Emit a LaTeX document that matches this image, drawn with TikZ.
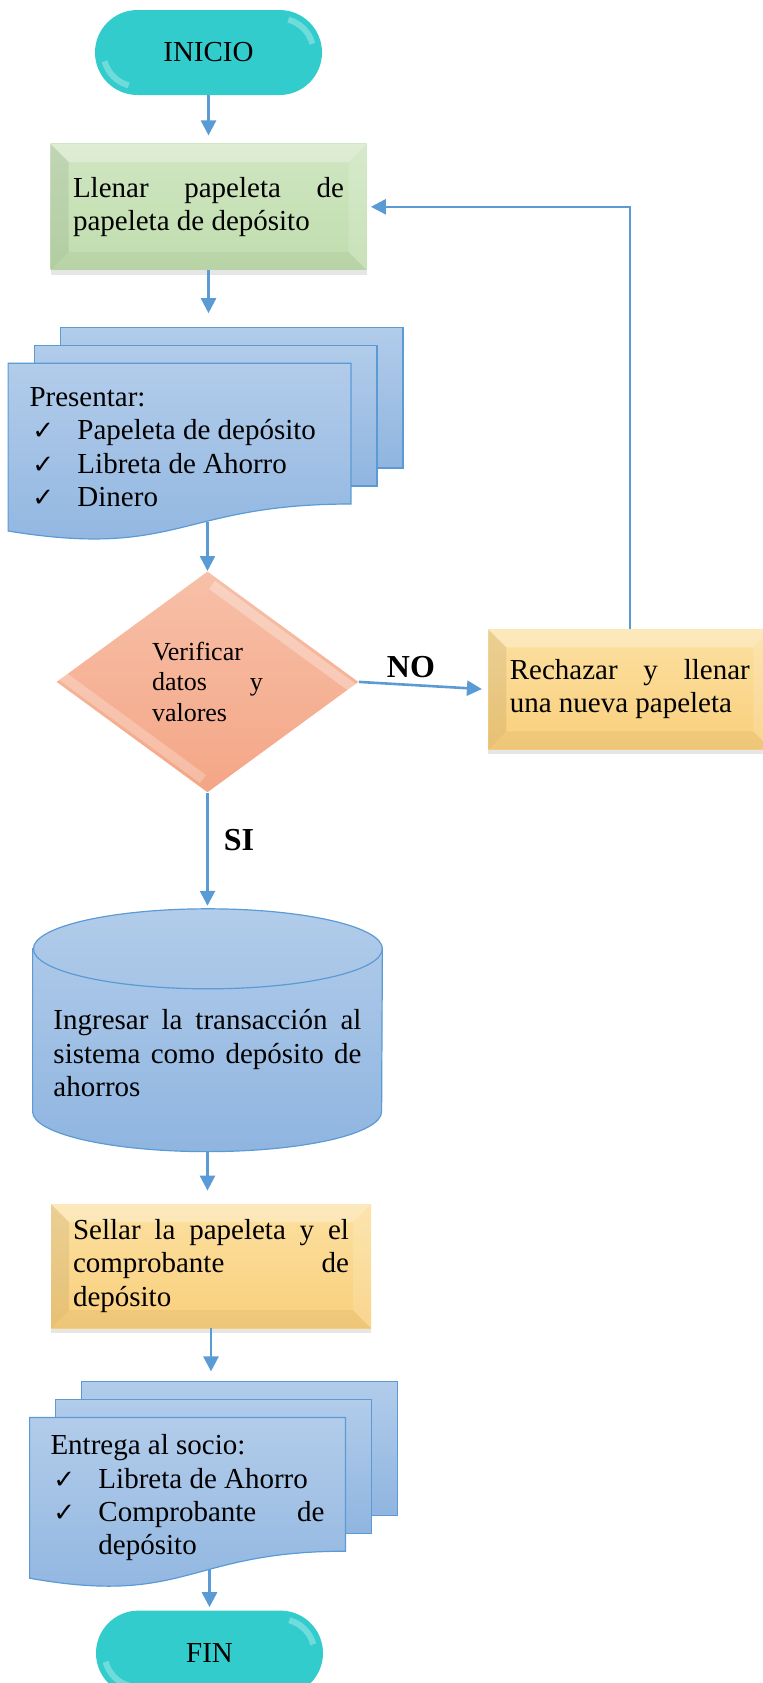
\documentclass[tikz,border=0pt]{standalone}
\usepackage{fontspec}
\setmainfont{Liberation Serif}
\newfontfamily\symfont{DejaVu Sans}
\usepackage{xcolor}
\usetikzlibrary{shapes.geometric, arrows.meta, positioning, calc, shadows, backgrounds}

\hyphenpenalty=10000
\exhyphenpenalty=10000
\tolerance=10000

\definecolor{linkblue}{RGB}{91,155,213}
\definecolor{pillteal}{RGB}{51,204,204}
\definecolor{greentop}{RGB}{208,230,194}
\definecolor{greenbot}{RGB}{192,221,173}
\definecolor{goldtop}{RGB}{252,224,160}
\definecolor{goldbot}{RGB}{249,207,124}
\definecolor{salmontop}{RGB}{247,192,168}
\definecolor{salmonbot}{RGB}{244,166,134}
\definecolor{doctop}{RGB}{178,204,234}
\definecolor{docbot}{RGB}{143,181,224}

\newcommand{\chk}{\hspace*{1.5pt}\makebox[22.5pt][l]{\symfont\fontsize{13pt}{13pt}\selectfont ✓}}

\begin{document}
\begin{tikzpicture}[
    every node/.style={font=\fontsize{14.5pt}{16.6pt}\selectfont},
    pill/.style={rectangle, rounded corners=21.25pt, fill=pillteal, minimum width=113.5pt, minimum height=42.5pt, inner sep=0pt,
        path picture={
            \draw[white, opacity=.3, line width=3pt] ([shift={(-21.25pt,-21.25pt)}]path picture bounding box.north east)
                ++(15:17pt) arc[start angle=15, end angle=75, radius=17pt];
            \draw[white, opacity=.3, line width=3pt] ([shift={(21.25pt,21.25pt)}]path picture bounding box.south west)
                ++(195:17pt) arc[start angle=195, end angle=255, radius=17pt];
        }},
    bevelbox/.style={rectangle, inner sep=0pt, align=justify,
        drop shadow={shadow xshift=0pt, shadow yshift=-2.5pt, opacity=.2},
        path picture={
            \fill[white, opacity=.3] (path picture bounding box.north west) -- (path picture bounding box.north east)
                -- ([shift={(-9pt,-9pt)}]path picture bounding box.north east) -- ([shift={(9pt,-9pt)}]path picture bounding box.north west) -- cycle;
            \fill[white, opacity=.15] (path picture bounding box.north east) -- (path picture bounding box.south east)
                -- ([shift={(-9pt,9pt)}]path picture bounding box.south east) -- ([shift={(-9pt,-9pt)}]path picture bounding box.north east) -- cycle;
            \fill[black, opacity=.07] (path picture bounding box.north west) -- (path picture bounding box.south west)
                -- ([shift={(9pt,9pt)}]path picture bounding box.south west) -- ([shift={(9pt,-9pt)}]path picture bounding box.north west) -- cycle;
            \fill[black, opacity=.04] (path picture bounding box.south west) -- (path picture bounding box.south east)
                -- ([shift={(-9pt,9pt)}]path picture bounding box.south east) -- ([shift={(9pt,9pt)}]path picture bounding box.south west) -- cycle;
        }},
    greenbox/.style={bevelbox, top color=greentop, bottom color=greenbot},
    goldbox/.style={bevelbox, top color=goldtop, bottom color=goldbot},
    decision/.style={diamond, aspect=1.36, inner sep=0pt, align=justify, top color=salmontop, bottom color=salmonbot,
        font=\fontsize{13pt}{15.25pt}\selectfont,
        path picture={
            \draw[white, opacity=.3, line width=5pt]
                ($(path picture bounding box.north)!.03!(path picture bounding box.east)+(0,-5pt)$)
                -- ($(path picture bounding box.north)!.97!(path picture bounding box.east)+(0,-5pt)$);
            \draw[white, opacity=.25, line width=5pt]
                ($(path picture bounding box.west)!.03!(path picture bounding box.south)+(0,5pt)$)
                -- ($(path picture bounding box.west)!.97!(path picture bounding box.south)+(0,5pt)$);
        }},
    docnode/.style={rectangle, inner sep=0pt, align=justify},
    dbnode/.style={rectangle, inner sep=0pt, align=justify},
    docsheet/.style={top color=doctop, bottom color=docbot, draw=linkblue, line width=0.6pt},
    arrow/.style={-{Triangle[length=7.5pt, width=7.5pt]}, draw=linkblue, line width=1.3pt},
    link/.style={draw=linkblue, line width=0.8pt},
    lbl/.style={font=\bfseries\fontsize{16pt}{18pt}\selectfont, inner sep=0pt}
]
\useasboundingbox (0,0) rectangle (381pt,-841.5pt);

\node[pill] (inicio) at (104.25pt,-26.25pt) {INICIO};
\node[greenbox, below=24pt of inicio, minimum width=158pt, minimum height=63pt, text width=135.5pt] (llenar) {Llenar papeleta de\linebreak papeleta de depósito};
\node[docnode, below=46.5pt of llenar, xshift=-14.5pt, minimum width=171pt, minimum height=83.5pt, text width=150pt] (present)
    {Presentar:\\ \chk Papeleta de depósito\\ \chk Libreta de Ahorro\\ \chk Dinero};
\node[decision, below=20pt of present, xshift=14pt, minimum width=151pt, minimum height=110.5pt, text width=55.5pt] (verif) {Verificar\\ datos y\linebreak valores};
\node[goldbox, right=64.5pt of verif, yshift=-3.75pt, minimum width=141.5pt, minimum height=60pt, text width=120pt] (rech) {Rechazar y llenar\linebreak una nueva papeleta};
\node[dbnode, below=81pt of verif, minimum width=174.5pt, minimum height=98pt, text width=154pt] (db) {Ingresar la transacción al\linebreak sistema como depósito de\linebreak ahorros};
\node[goldbox, below=26pt of db, xshift=1.75pt, minimum width=160pt, minimum height=62pt, text width=138pt] (sellar) {Sellar la papeleta y el\linebreak comprobante de\linebreak depósito};
\node[docnode, below=44.5pt of sellar, xshift=-11.75pt, minimum width=157.5pt, minimum height=80pt, text width=137pt] (entrega)
    {Entrega al socio:\\ \chk Libreta de Ahorro\\ \chk\parbox[t]{113pt}{Comprobante de\linebreak depósito}};
\node[pill, below=16pt of entrega, xshift=11pt] (fin) {FIN};

% stacked sheets and database drum behind the texts
\begin{scope}[on background layer]
    \foreach \d in {present, entrega} {
        \foreach \sx/\sy in {26/18, 13/9}
            \path[docsheet] ([shift={(\sx pt,\sy pt)}]\d.north west) rectangle ([shift={(\sx pt,\sy pt+13.5pt)}]\d.south east);
        \path[docsheet] (\d.north west) -- (\d.north east) -- ([yshift=13.5pt]\d.south east)
            .. controls ([yshift=13.5pt]\d.south) and ([yshift=-14pt]\d.south) .. (\d.south west) -- cycle;
    }
    \path[docsheet] ([yshift=3pt]db.north west) -- ([yshift=20pt]db.south west)
        arc[start angle=180, end angle=360, x radius=87.25pt, y radius=20pt] -- ([yshift=3pt]db.north east)
        arc[start angle=0, end angle=180, x radius=87.25pt, y radius=20pt] -- cycle;
    \draw[link, line width=0.6pt] ([yshift=3pt]db.north east) arc[start angle=0, end angle=-180, x radius=87.25pt, y radius=20pt];
\end{scope}

\coordinate (present top) at ($(llenar.south |- present.north)+(0,18pt)$);
\coordinate (db top) at ($(db.north)+(0,23pt)$);
\coordinate (sellar top) at (db.south |- sellar.north);
\coordinate (entrega top) at ($(sellar.south |- entrega.north)+(0,18pt)$);
\coordinate (jog) at ($(llenar.east)+(84pt,0)$);

\foreach \i/\j/\g in {inicio.south/llenar.north/4pt, llenar.south/present top/7pt, db.south/sellar top/6.5pt, sellar.south/entrega top/5pt}
    \draw[arrow, shorten >=\g] (\i) -- (\j);

\draw[arrow, shorten <=-4.5pt] (verif.north |- present.south) -- (verif.north);
\draw[arrow, shorten >=1.5pt] (verif.south) -- node[lbl, pos=0.41, right=7.5pt] {SI} (db top);
\draw[arrow, shorten >=3pt] (verif.east) -- node[lbl, midway, above=3.5pt, xshift=-6.25pt] {NO} (rech.west);
\draw[link] (rech.north) |- (jog);
\draw[arrow, shorten >=2pt] (jog) -- (llenar.east);
\draw[arrow, shorten <=-4.5pt, shorten >=1.5pt] (fin.north |- entrega.south) -- (fin.north);

\end{tikzpicture}
\end{document}
